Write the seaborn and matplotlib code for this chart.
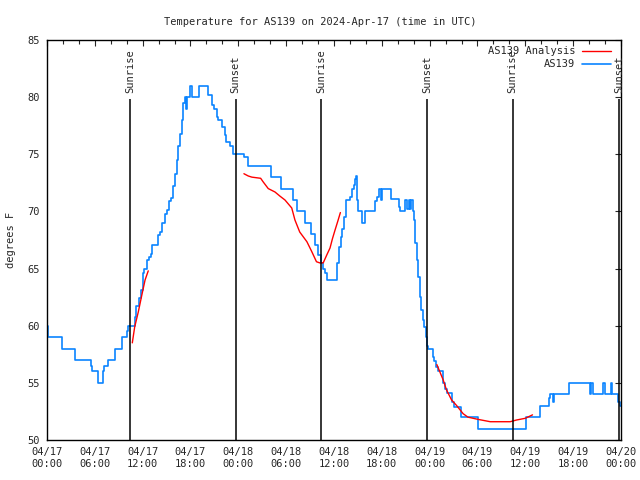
import numpy as np
import pandas as pd
import matplotlib
matplotlib.use("Agg")
import matplotlib.pyplot as plt
import matplotlib.dates as mdates
import seaborn as sns

# station readings, hours after 2024-04-17 00:00 UTC (step changes)
obs_hours = [0.0, 0.1, 1.9, 3.5, 5.5, 5.7, 6.35, 7.0, 7.2, 7.7, 8.5, 9.4, 10.0, 10.2,
             11.0, 11.2, 11.5, 11.75, 12.0, 12.2, 12.5, 12.75, 13.0, 13.2, 13.9, 14.2,
             14.4, 14.8, 15.1, 15.35, 15.6, 15.85, 16.05, 16.25, 16.45, 16.7, 16.9, 17.0,
             17.1, 17.3, 17.45, 17.6, 17.95, 18.2, 19.1, 20.2, 20.65, 20.9, 21.3, 21.4,
             22.0, 22.3, 22.5, 23.0, 23.3, 24.7, 25.25, 28.1, 29.4, 30.9, 31.4, 32.3,
             33.1, 33.6, 34.0, 34.35, 34.6, 34.9, 35.1, 36.4, 36.6, 36.85, 37.05, 37.25,
             37.45, 38.0, 38.25, 38.45, 38.65, 38.75, 38.85, 39.05, 39.5, 39.9, 41.2,
             41.4, 41.65, 41.95, 42.05, 43.2, 44.15, 44.3, 44.9, 45.15, 45.35, 45.55,
             45.7, 45.85, 46.0, 46.15, 46.35, 46.55, 46.75, 46.95, 47.15, 47.35, 47.5,
             47.65, 47.75, 48.45, 48.6, 48.8, 49.0, 49.65, 49.95, 50.2, 50.8, 51.05,
             51.9, 54.05, 60.05, 61.9, 62.95, 63.1, 63.45, 63.6, 65.5, 68.1, 68.25,
             68.5, 69.8, 69.95, 70.75, 70.9, 71.65, 71.85, 72.0]
obs_temps = [60, 59, 58, 57, 56.5, 56, 55, 56, 56.5, 57, 58, 59, 59.5, 60,
             60.8, 61.7, 62.4, 63.1, 64.6, 65, 65.75, 66, 66.3, 67.1, 67.9, 68.2,
             69, 69.8, 70.1, 70.9, 71.15, 72.2, 73.3, 74.5, 75.7, 76.8, 78, 78.9,
             79.5, 80, 79, 80, 81, 80, 81, 80.2, 79.3, 79, 78.3, 78,
             77.4, 76.7, 76.1, 75.7, 75, 74.8, 74, 73, 72, 71, 70, 69,
             68, 67.1, 66.2, 65.5, 65, 64.6, 64, 65.5, 66.9, 67.8, 68.5, 69.5,
             71, 71.3, 72, 72.3, 72.8, 73.1, 71, 70, 69, 70, 70.9,
             71.3, 72, 71, 72, 71.1, 70.4, 70, 71, 70.2, 71, 70.2,
             71, 70, 69.25, 67.2, 65.75, 64.3, 62.5, 61.4, 60.5, 59.9, 59,
             58.2, 58, 57.3, 56.9, 56.4, 56, 55, 54.5, 54.1, 53.35, 52.9,
             52, 51, 52, 53, 53.65, 54, 53.3, 54, 55, 54, 55,
             54, 55, 54, 55, 54, 53.3, 53, 53]

# analysis curve, three pieces
ana1_hours = [10.7, 11.0, 11.45, 11.9, 12.3, 12.7]
ana1_temps = [58.5, 59.9, 61.2, 62.7, 64.0, 64.8]
ana2_hours = [24.7, 25.25, 25.7, 26.8, 27.1, 27.75, 28.6, 29.2, 29.85, 30.7, 31.1,
              31.7, 32.6, 33.2, 33.8, 34.2, 34.65, 35.1, 35.5, 35.8, 36.1, 36.5, 36.8]
ana2_temps = [73.3, 73.1, 73.0, 72.9, 72.6, 72.0, 71.7, 71.35, 71.0, 70.3, 69.25,
              68.2, 67.35, 66.5, 65.6, 65.5, 65.5, 66.2, 66.8, 67.6, 68.3, 69.2, 69.9]
ana3_hours = [48.9, 49.7, 50.1, 50.75, 51.4, 52.2, 52.8, 54.1, 55.6, 58.1, 58.9, 60.0, 60.9]
ana3_temps = [56.6, 55.25, 54.4, 53.5, 53.0, 52.3, 52.0, 51.8, 51.6, 51.6, 51.75, 51.9, 52.2]

sun_hours = [10.45, 23.67, 34.42, 47.7, 58.4, 71.72]
sun_labels = ["Sunrise", "Sunset", "Sunrise", "Sunset", "Sunrise", "Sunset"]

base = pd.Timestamp("2024-04-17 00:00")
def to_time(h):
    return base + pd.to_timedelta(np.array(h), unit="h")

sns.set_style("white")
plt.rcParams["font.family"] = ["DejaVu Sans Mono"]
plt.rcParams["font.size"] = 7.5

fig = plt.figure(figsize=(6.4, 4.8), dpi=100)
ax = fig.add_axes([47 / 640, 40 / 480, 574 / 640, 400 / 480])

sns.lineplot(x=to_time(obs_hours), y=obs_temps, drawstyle="steps-post", color="#0a84ff",
             linewidth=1.2, estimator=None, sort=False, label="AS139", ax=ax)
for i, (hh, tt) in enumerate([(ana1_hours, ana1_temps), (ana2_hours, ana2_temps), (ana3_hours, ana3_temps)]):
    sns.lineplot(x=to_time(hh), y=tt, color="#ff0000", linewidth=1.0, estimator=None, sort=False,
                 label="AS139 Analysis" if i == 0 else None, ax=ax)

for h, lab in zip(sun_hours, sun_labels):
    t = to_time([h])[0]
    ax.vlines(t, 50, 79.8, color="black", linewidth=1.1)
    ax.text(t, 80.4, lab, rotation=90, ha="center", va="bottom", fontsize=7.5)

ax.set_xlim(base, base + pd.Timedelta(hours=72))
ax.set_ylim(50, 85)
ax.set_yticks(range(50, 86, 5))
ax.xaxis.set_major_locator(mdates.HourLocator(byhour=[0, 6, 12, 18]))
ax.xaxis.set_minor_locator(mdates.HourLocator(byhour=range(0, 24, 2)))
ax.xaxis.set_major_formatter(mdates.DateFormatter("%m/%d\n%H:%M"))
ax.tick_params(axis="both", which="both", direction="in", top=True, right=True,
               length=4, width=0.8, labelsize=7.5, pad=5)
ax.tick_params(axis="x", which="minor", length=3)
for s in ax.spines.values():
    s.set_color("black")
    s.set_linewidth(1.0)

ax.set_xlabel("")
ax.set_ylabel("degrees F", fontsize=7.5, labelpad=8)
fig.suptitle("Temperature for AS139 on 2024-Apr-17 (time in UTC)", fontsize=7.5, y=0.965)

handles, labels = ax.get_legend_handles_labels()
order = [labels.index("AS139 Analysis"), labels.index("AS139")]
ax.legend([handles[i] for i in order], [labels[i] for i in order], loc="upper right",
          bbox_to_anchor=(0.993, 1.0), frameon=False, markerfirst=False, handlelength=2.8,
          handletextpad=0.6, labelspacing=0.3, borderaxespad=0.2, fontsize=7.5)

fig.savefig("out.png", dpi=100)
